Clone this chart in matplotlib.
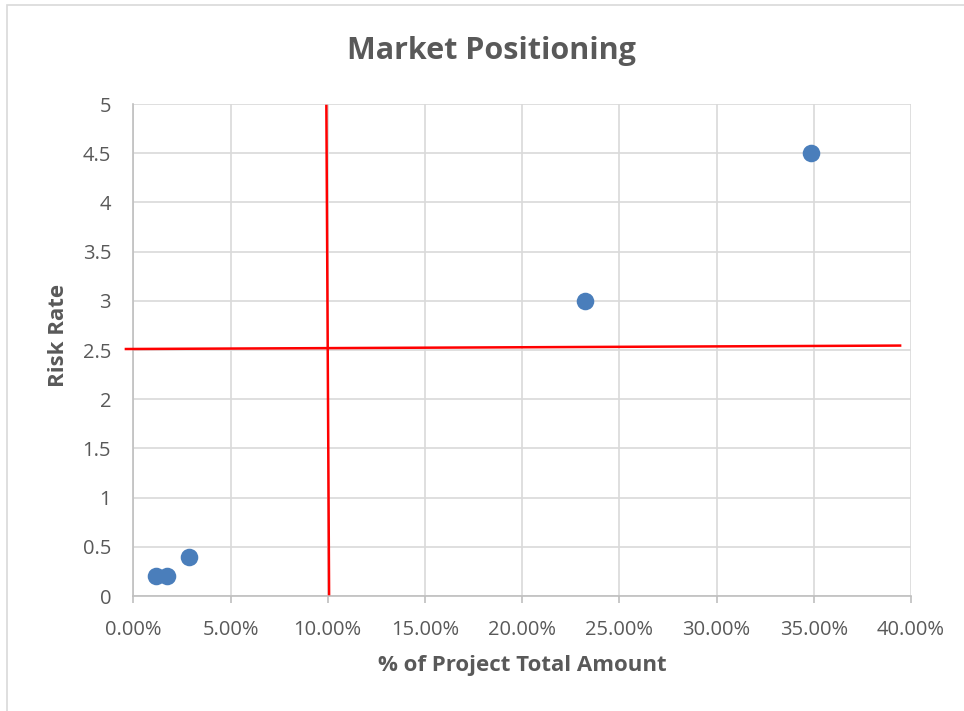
import matplotlib
matplotlib.use("Agg")
import matplotlib.pyplot as plt
from matplotlib.ticker import MultipleLocator, FuncFormatter
from matplotlib.patches import Rectangle

# Share of project total amount (%) and risk rate per item
share_pct = [1.17, 1.75, 2.88, 23.24, 34.86]
risk_rate = [0.2, 0.2, 0.4, 3.0, 4.5]

# Quadrant divider lines (endpoints in data units)
divider_v_x = [9.93, 10.07]
divider_v_y = [4.98, 0.02]
divider_h_x = [-0.38, 39.44]
divider_h_y = [2.51, 2.545]

title = "Market Positioning"
xlabel = "% of Project Total Amount"
ylabel = "Risk Rate"

W, H = 964, 711
fig = plt.figure(figsize=(W / 100, H / 100), dpi=100)
plt.rcParams['font.family'] = ['Open Sans', 'DejaVu Sans']

left, right, top, bottom = 133.3, 911, 104, 596
ax = fig.add_axes([left / W, 1 - bottom / H, (right - left) / W, (bottom - top) / H])

text_color = "#595959"
grid_color = "#d9d9d9"

# chart border
fig.patches.append(Rectangle((7 / W, -0.01), 1.1, 1 - 5 / H + 0.01,
                             transform=fig.transFigure, fill=False,
                             edgecolor=grid_color, linewidth=1.2))

ax.set_xlim(0, 40)
ax.set_ylim(0, 5)
ax.xaxis.set_major_locator(MultipleLocator(5))
ax.yaxis.set_major_locator(MultipleLocator(0.5))
ax.xaxis.set_major_formatter(FuncFormatter(lambda v, p: f"{v:.2f}%"))
ax.yaxis.set_major_formatter(FuncFormatter(lambda v, p: f"{v:g}"))

ax.grid(True, color=grid_color, linewidth=1.2)
ax.set_axisbelow(True)
for s in ["top", "right"]:
    ax.spines[s].set_visible(False)
for s in ["left", "bottom"]:
    ax.spines[s].set_color("#bfbfbf")
    ax.spines[s].set_linewidth(1.2)

ax.tick_params(axis="x", colors="#bfbfbf", labelcolor=text_color, labelsize=14.5,
               length=5, width=1.2, direction="out", pad=12)
ax.tick_params(axis="y", length=0, labelcolor=text_color, labelsize=14.5, pad=16)

ax.scatter(share_pct, risk_rate, s=160, color="#4a7ebb", zorder=3, linewidths=0)

ax.plot(divider_v_x, divider_v_y, color="#ff0000", linewidth=1.8, clip_on=False, zorder=4)
ax.plot(divider_h_x, divider_h_y, color="#ff0000", linewidth=1.8, clip_on=False, zorder=4)

fig.text(491 / W, 1 - 51 / H, title, ha="center", va="center",
         fontsize=22, fontweight="bold", color=text_color)
fig.text(522 / W, 1 - 665 / H, xlabel, ha="center", va="center",
         fontsize=16, fontweight="bold", color=text_color)
fig.text(58 / W, 1 - 335 / H, ylabel, ha="center", va="center", rotation=90,
         fontsize=16, fontweight="bold", color=text_color)

fig.savefig("out.png", dpi=100)
